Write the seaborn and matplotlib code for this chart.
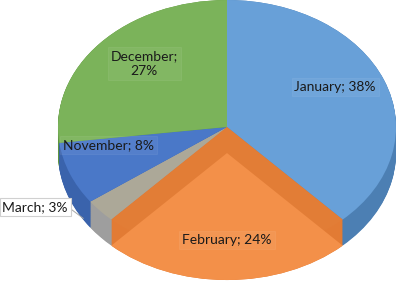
import numpy as np
import matplotlib.pyplot as plt
import seaborn as sns

# data
months = ['January', 'February', 'March', 'November', 'December']
shares = [38, 24, 3, 8, 27]
top_colors = ['#68A0D8', '#F39049', '#ACA898', '#4A78C8', '#7BB35A']
side_colors = ['#4C7FB3', '#E27B34', '#9E9E9E', '#3A63AC', '#5E9440']
feb_inner = '#E27D36'

sns.set_style('white')
plt.rcParams['font.family'] = ['Lato', 'DejaVu Sans']

fig = plt.figure(figsize=(3.97, 2.83), dpi=100)
ax = fig.add_axes([0, 0, 1, 1])

depth = 0.205   # thickness of the disc, in units of the vertical radius
n_layers = 40
pie_kw = dict(startangle=90, counterclock=False, radius=1,
              wedgeprops=dict(linewidth=0))

# side walls: stack of shifted pies
for off in np.linspace(depth, 0, n_layers):
    ax.pie(shares, colors=side_colors, center=(0, -off), **pie_kw)

# top faces (February drawn separately, it is translucent)
faces = [c if m != 'February' else 'none' for m, c in zip(months, top_colors)]
ax.pie(shares, colors=faces, center=(0, 0), **pie_kw)
feb_top = ['none'] * len(shares)
feb_bot = ['none'] * len(shares)
i_feb = months.index('February')
feb_top[i_feb] = feb_inner
feb_bot[i_feb] = top_colors[i_feb]
ax.pie(shares, colors=feb_top, center=(0, 0), **pie_kw)
ax.pie(shares, colors=feb_bot, center=(0, -depth), **pie_kw)

# labels
box = dict(boxstyle='square,pad=0.2', fc='white', ec='white', alpha=0.06, lw=0.8)
lab_pos = {'January': (0.64, 0.315), 'February': (0.0, -0.89),
           'November': (-0.70, -0.14), 'December': (-0.49, 0.50)}
for m, s in zip(months, shares):
    if m in lab_pos:
        txt = f'{m};\n{s}%' if m == 'December' else f'{m}; {s}%'
        ax.text(*lab_pos[m], txt, ha='center', va='center', fontsize=10,
                color='#1A1A1A', linespacing=1.35, bbox=box)

# March sits outside with a leader line
ax.plot([-0.92, -0.85], [-0.65, -0.72], color='#A6A6A6', lw=0.7)
ax.text(-1.135, -0.63, 'March; 3%', ha='center', va='center', fontsize=10,
        color='#1A1A1A',
        bbox=dict(boxstyle='square,pad=0.2', fc='white', ec='#D0D0D0', lw=0.8))

ax.set_aspect('auto')
ax.set_xlim(-227 / 169, 170 / 169)
ax.set_ylim(-156 / 127, 1.0)
ax.axis('off')

fig.savefig('out.png', dpi=100)
